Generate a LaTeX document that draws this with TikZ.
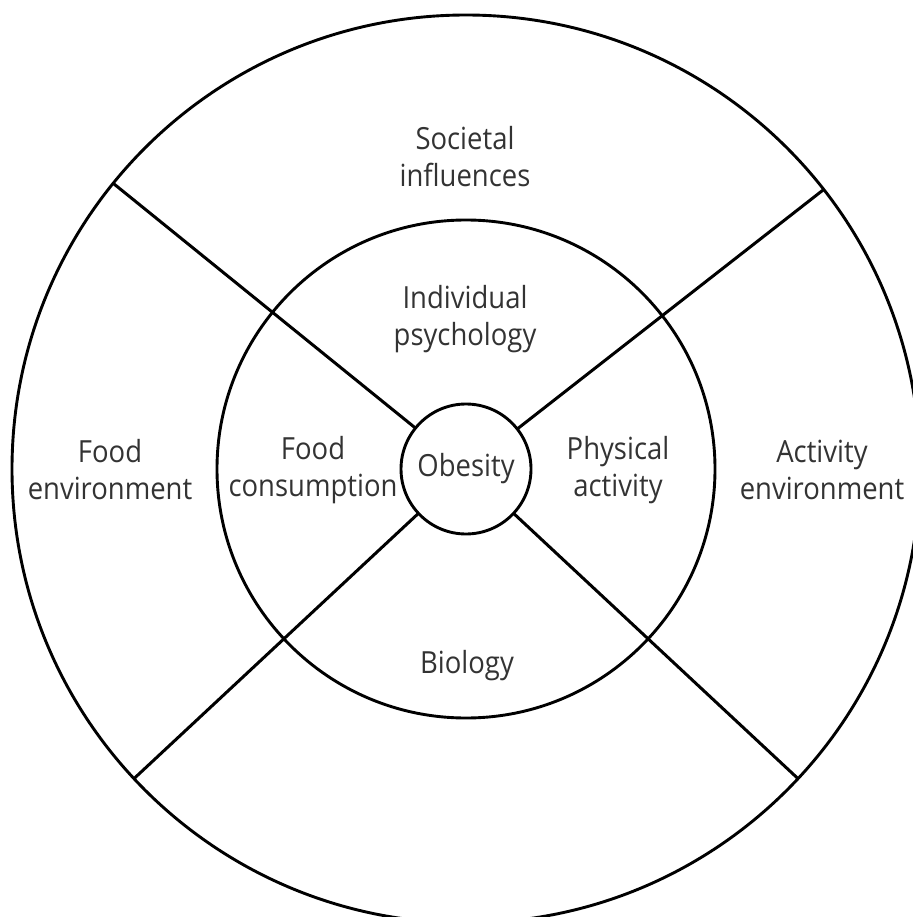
\documentclass[tikz,border=0pt]{standalone}
\usepackage{fontspec}
\setmainfont[FakeStretch=0.9]{Open Sans}
\usetikzlibrary{positioning}
\tikzset{
      ring/.style   = {circle, draw, line width=2.9pt, inner sep=0pt, outer sep=0pt},
      spoke/.style  = {line width=3pt},
      sector/.style = {font=\fontsize{30.5}{37}\selectfont, text=black!80, align=center},
    }

\begin{document}
\begin{tikzpicture}[x=1pt,y=1pt]
        \useasboundingbox (0,0) rectangle (912,-917);
        \coordinate (c) at (466,-469);

        % rings
        \node [ring, minimum size=908pt] (outer)  at (c) {};
        \node [ring, minimum size=498pt] (middle) at (c) {};
        \node [ring, sector, minimum size=130pt] (obesity) at (c) {Obesity};

        % spokes
        \path[spoke]
        (obesity.141.3) edge (outer.141.3)
        (obesity.38.7)  edge (outer.38.7)
        (obesity.-137)  edge (outer.-137)
        (obesity.-43)   edge (outer.-43);

        % labels
        \node [sector] (societal)   at (465,-157) {Societal\\influences};
        \node [sector] (individual) at (465,-319) {Individual\\psychology};
        \node [sector] (foodenv)    at (110,-470) {Food\\environment};
        \node [sector] (foodcons)   at (313,-470) {Food\\consumption};
        \node [sector] (physical)   at (618,-470) {Physical\\activity};
        \node [sector] (actenv)     at (822,-470) {Activity\\environment};
        \node [sector] (biology)    at (467,-666) {Biology};
    \end{tikzpicture}
\end{document}
